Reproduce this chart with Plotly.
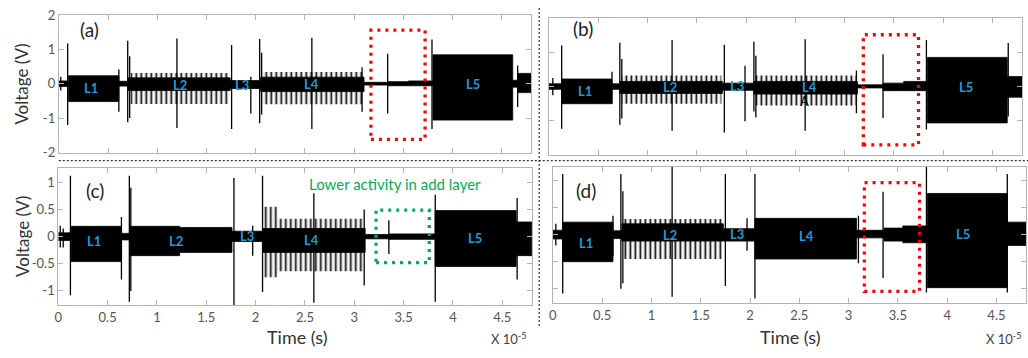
import plotly.graph_objects as go

W, H = 1028, 358
FONT = "Lato"

# ---------------- data (time in units of 1e-5 s, voltage in V) ----------------
x_ticks = [0, 0.5, 1, 1.5, 2, 2.5, 3, 3.5, 4, 4.5]
x_tick_text = ["0", "0.5", "1", "1.5", "2", "2.5", "3", "3.5", "4", "4.5"]
y_ticks_ab = [-2, -1, 0, 1, 2]
y_tick_text_ab = ["-2", "-1", "0", "1", "2"]
y_ticks_cd = [-1, -0.5, 0, 0.5, 1]
y_tick_text_cd = ["-1", "-0.5", "0", "0.5", "1"]
layer_names = ["L1", "L2", "L3", "L4", "L5"]

# Panel (a): step envelope of the dense oscillation
a_env_t = [0.00, 0.10, 0.61, 0.70, 1.74, 2.05, 3.10, 3.34, 3.55, 3.80, 4.61, 4.66, 4.80]
a_env_hi = [0.08, 0.23, 0.07, 0.17, 0.09, 0.19, 0.04, 0.06, 0.08, 0.84, 0.10, 0.30, 0.30]
a_env_lo = [-0.08, -0.52, -0.07, -0.20, -0.14, -0.23, -0.04, -0.06, -0.06, -1.06, -0.10, -0.26, -0.26]
a_comb_t0 = [0.73, 2.07]
a_comb_t1 = [1.73, 3.08]
a_comb_hi = [0.31, 0.34]
a_comb_lo = [-0.59, -0.60]
a_spk_t = [0.02, 0.09, 0.61, 0.70, 0.72, 1.20, 1.755, 1.95, 2.04, 2.06, 2.57, 3.08, 3.34, 3.79, 4.66]
a_spk_hi = [0.20, 1.17, 0.41, 1.25, 0.80, 1.32, 1.13, 0.20, 1.30, 0.90, 1.34, 0.48, 0.87, 1.29, 0.53]
a_spk_lo = [-0.20, -1.20, -0.82, -1.12, -1.00, -1.29, -1.32, -0.87, -1.15, -0.90, -1.32, -0.82, -0.87, -1.32, -0.68]

# Panel (b)
b_env_t = [0.00, 0.13, 0.64, 0.72, 1.76, 2.08, 3.13, 3.39, 3.60, 3.84, 4.65, 4.80]
b_env_hi = [0.08, 0.22, 0.08, 0.15, 0.10, 0.15, 0.05, 0.10, 0.15, 0.85, 0.29, 0.29]
b_env_lo = [-0.08, -0.50, -0.08, -0.20, -0.11, -0.22, -0.04, -0.12, -0.12, -1.06, -0.31, -0.31]
b_comb_t0 = [0.74, 2.10]
b_comb_t1 = [1.75, 3.12]
b_comb_hi = [0.32, 0.32]
b_comb_lo = [-0.50, -0.55]
b_spk_t = [0.04, 0.13, 0.64, 0.72, 0.74, 1.25, 1.78, 1.99, 2.08, 2.10, 2.60, 3.12, 3.39, 3.83, 4.66]
b_spk_hi = [0.25, 1.20, 0.43, 1.28, 0.80, 1.36, 1.22, 0.61, 1.31, 0.90, 1.38, 0.47, 0.94, 1.36, 1.27]
b_spk_lo = [-0.25, -1.23, -0.50, -1.11, -0.93, -1.29, -1.34, -1.01, -0.73, -0.90, -1.29, -0.78, -0.92, -1.25, -0.87]

# Panel (c)
c_env_t = [0.00, 0.13, 0.635, 0.73, 1.23, 1.76, 2.07, 3.11, 3.35, 3.82, 4.64, 4.80]
c_env_hi = [0.07, 0.19, 0.06, 0.19, 0.17, 0.10, 0.15, 0.04, 0.05, 0.48, 0.27, 0.27]
c_env_lo = [-0.07, -0.46, -0.06, -0.35, -0.29, -0.09, -0.29, -0.04, -0.05, -0.55, -0.35, -0.35]
c_comb_t0 = [2.08, 2.08]
c_comb_t1 = [2.22, 3.09]
c_comb_hi = [0.55, 0.33]
c_comb_lo = [-0.75, -0.64]
c_spk_t = [0.02, 0.05, 0.123, 0.64, 0.72, 0.735, 1.78, 1.97, 2.07, 2.59, 3.10, 3.35, 3.82, 4.65]
c_spk_hi = [0.20, 0.15, 1.12, 0.36, 1.12, 0.90, 1.08, 0.20, 1.12, 0.80, 0.50, 0.30, 0.77, 0.71]
c_spk_lo = [-0.20, -0.20, -1.08, -0.79, -1.20, -1.00, -1.26, -0.35, -1.02, -1.22, -0.90, -0.32, -1.20, -0.79]

# Panel (d)
d_env_t = [0.00, 0.10, 0.61, 0.70, 1.73, 2.05, 3.08, 3.36, 3.55, 3.80, 4.61, 4.80]
d_env_hi = [0.08, 0.23, 0.07, 0.20, 0.11, 0.30, 0.08, 0.12, 0.16, 0.76, 0.23, 0.23]
d_env_lo = [-0.08, -0.50, -0.07, -0.12, -0.12, -0.45, -0.06, -0.12, -0.15, -0.98, -0.20, -0.20]
d_comb_t0 = [0.72]
d_comb_t1 = [1.72]
d_comb_hi = [0.29]
d_comb_lo = [-0.45]
d_spk_t = [0.03, 0.10, 0.61, 0.69, 0.71, 1.21, 1.75, 1.97, 2.05, 3.10, 3.35, 3.79, 4.61]
d_spk_hi = [0.20, 1.12, 0.35, 1.12, 0.80, 1.25, 1.12, 0.30, 1.12, 0.35, 0.79, 1.26, 1.12]
d_spk_lo = [-0.20, -1.09, -0.40, -1.00, -0.90, -1.15, -0.95, -0.30, -1.18, -0.53, -0.80, -1.07, -1.07]

# layer label positions (t, V) per panel
a_lab_t = [0.33, 1.23, 1.86, 2.57, 4.21]
a_lab_v = [-0.14, -0.03, -0.03, 0.00, 0.00]
b_lab_t = [0.37, 1.225, 1.91, 2.64, 4.23]
b_lab_v = [-0.13, -0.02, 0.03, -0.02, -0.02]
c_lab_t = [0.36, 1.19, 1.91, 2.57, 4.22]
c_lab_v = [-0.08, -0.08, 0.01, -0.07, -0.02]
d_lab_t = [0.34, 1.185, 1.87, 2.57, 4.16]
d_lab_v = [-0.15, 0.00, 0.01, -0.03, 0.01]

# highlight boxes (t0, t1, v0, v1)
a_box = [3.17, 3.72, -1.62, 1.56]
b_box = [3.19, 3.75, -1.70, 1.51]
c_box = [3.22, 3.76, -0.48, 0.49]
d_box = [3.16, 3.72, -1.05, 0.96]

# ---------------- layout geometry (pixels) ----------------
def px(xp):
    return xp / W

def py(yp):
    return 1 - yp / H

panels = [
    dict(key="a", xa="x", ya="y", xdom=(55, 529.5), ydom=(7, 151), yr=[-2.01, 2.01],
         env=(a_env_t, a_env_hi, a_env_lo), comb=(a_comb_t0, a_comb_t1, a_comb_hi, a_comb_lo),
         spk=(a_spk_t, a_spk_hi, a_spk_lo), lab=(a_lab_t, a_lab_v), box=a_box, boxc="#FF0000",
         yt=(y_ticks_ab, y_tick_text_ab), ylab=True, xlab=False),
    dict(key="b", xa="x2", ya="y2", xdom=(547, 1022), ydom=(10.4, 153.6), yr=[-2, 2],
         env=(b_env_t, b_env_hi, b_env_lo), comb=(b_comb_t0, b_comb_t1, b_comb_hi, b_comb_lo),
         spk=(b_spk_t, b_spk_hi, b_spk_lo), lab=(b_lab_t, b_lab_v), box=b_box, boxc="#FF0000",
         yt=(y_ticks_ab, y_tick_text_ab), ylab=False, xlab=False),
    dict(key="c", xa="x3", ya="y3", xdom=(54.5, 530), ydom=(167, 310), yr=[-1.26, 1.265],
         env=(c_env_t, c_env_hi, c_env_lo), comb=(c_comb_t0, c_comb_t1, c_comb_hi, c_comb_lo),
         spk=(c_spk_t, c_spk_hi, c_spk_lo), lab=(c_lab_t, c_lab_v), box=c_box, boxc="#00B050",
         yt=(y_ticks_cd, y_tick_text_cd), ylab=True, xlab=True),
    dict(key="d", xa="x4", ya="y4", xdom=(551, 1026), ydom=(166, 308), yr=[-1.265, 1.248],
         env=(d_env_t, d_env_hi, d_env_lo), comb=(d_comb_t0, d_comb_t1, d_comb_hi, d_comb_lo),
         spk=(d_spk_t, d_spk_hi, d_spk_lo), lab=(d_lab_t, d_lab_v), box=d_box, boxc="#FF0000",
         yt=(y_ticks_cd, y_tick_text_cd), ylab=False, xlab=True),
]

fig = go.Figure()
shapes = []
annotations = []
FRAME = "#b4b4b4"


def note(x, y, text, size, color, xref="paper", yref="paper", angle=0):
    return dict(x=x, y=y, xref=xref, yref=yref, text=text, showarrow=False,
                xanchor="center", yanchor="middle", textangle=angle,
                font=dict(family=FONT, size=size, color=color))


for i, p in enumerate(panels):
    xa, ya = p["xa"], p["ya"]
    # comb (pulsed) regions drawn as vertical-line pattern
    t0s, t1s, his, los = p["comb"]
    cx, cy = [], []
    for t0, t1, hi, lo in zip(t0s, t1s, his, los):
        cx += [t0, t1, t1, t0, t0, None]
        cy += [lo, lo, hi, hi, lo, None]
    fig.add_trace(go.Scatter(
        x=cx, y=cy, xaxis=xa, yaxis=ya, mode="lines", line=dict(width=0),
        fill="toself", fillcolor="rgba(0,0,0,0)",
        fillpattern=dict(shape="|", size=5, solidity=0.35, fgcolor="#111111",
                         bgcolor="rgba(0,0,0,0.04)", fillmode="replace"),
        hoverinfo="skip", showlegend=False))
    # dense oscillation envelope
    et, ehi, elo = p["env"]
    fig.add_trace(go.Scatter(x=et, y=ehi, xaxis=xa, yaxis=ya, mode="lines",
                             line=dict(width=0.8, color="black", shape="hv"),
                             hoverinfo="skip", showlegend=False))
    fig.add_trace(go.Scatter(x=et, y=elo, xaxis=xa, yaxis=ya, mode="lines",
                             line=dict(width=0.8, color="black", shape="hv"),
                             fill="tonexty", fillcolor="black",
                             hoverinfo="skip", showlegend=False))
    # spikes
    st, shi, slo = p["spk"]
    sx, sy = [], []
    for t, hi, lo in zip(st, shi, slo):
        sx += [t, t, None]
        sy += [hi, lo, None]
    fig.add_trace(go.Scatter(x=sx, y=sy, xaxis=xa, yaxis=ya, mode="lines",
                             line=dict(width=1.3, color="black"),
                             hoverinfo="skip", showlegend=False))

    sfx = "" if i == 0 else str(i + 1)
    fig.layout["xaxis" + sfx] = dict(
        domain=[px(p["xdom"][0]), px(p["xdom"][1])], anchor=ya, range=[0, 4.8],
        showline=True, linecolor=FRAME, linewidth=1, mirror="ticks",
        ticks="inside", ticklen=5, tickcolor=FRAME, showgrid=False, zeroline=False,
        tickvals=x_ticks, ticktext=x_tick_text, showticklabels=p["xlab"],
        ticklabeloverflow="allow",
        tickfont=dict(family=FONT, size=13, color="#555555"))
    fig.layout["yaxis" + sfx] = dict(
        domain=[py(p["ydom"][1]), py(p["ydom"][0])], anchor=xa, range=p["yr"],
        showline=True, linecolor=FRAME, linewidth=1, mirror="ticks",
        ticks="inside", ticklen=5, tickcolor=FRAME, showgrid=False, zeroline=False,
        tickvals=p["yt"][0], ticktext=p["yt"][1], showticklabels=p["ylab"],
        ticklabeloverflow="allow",
        tickfont=dict(family=FONT, size=13, color="#555555"))

    # layer labels
    for name, t, v in zip(layer_names, p["lab"][0], p["lab"][1]):
        annotations.append(note(t, v, "<b>%s</b>" % name, 13, "#1C9CD8", xref=xa, yref=ya))
    # highlight box
    bx = p["box"]
    shapes.append(dict(type="rect", xref=xa, yref=ya, x0=bx[0], x1=bx[1], y0=bx[2], y1=bx[3],
                       line=dict(color=p["boxc"], width=3.3, dash="3px,5px"), layer="above"))

# panel letters
for txt, xp, yp in [("(a)", 86, 22), ("(b)", 581, 21), ("(c)", 91, 191), ("(d)", 584, 191)]:
    annotations.append(note(px(xp), py(yp), txt, 19, "#222222"))

# axis titles
for yp in (79, 238):
    annotations.append(note(px(18), py(yp), "Voltage (V)", 17, "#333333", angle=-90))
for xp in (295, 790):
    annotations.append(note(px(xp), py(343), "Time (s)", 18, "#333333"))
for xp in (507, 1004):
    annotations.append(note(px(xp), py(345), "X 10<sup>-5</sup>", 13, "#444444"))

# extra texts
annotations.append(note(px(393), py(184), "Lower activity in add layer", 15, "#00B050"))
annotations.append(note(2.59, -0.42, "A", 13, "black", xref="x2", yref="y2"))

# dotted separators
shapes.append(dict(type="line", xref="paper", yref="paper", x0=px(55), x1=1, y0=py(159.3), y1=py(159.3),
                   line=dict(color="#333333", width=1.2, dash="2px,2px")))
shapes.append(dict(type="line", xref="paper", yref="paper", x0=px(537.3), x1=px(537.3), y0=1, y1=py(333),
                   line=dict(color="#333333", width=1.2, dash="2px,2px")))

fig.update_layout(width=W, height=H, margin=dict(l=0, r=0, t=0, b=0),
                  paper_bgcolor="white", plot_bgcolor="white",
                  shapes=shapes, annotations=annotations, showlegend=False,
                  font=dict(family=FONT))

fig.write_html("out.html", config={"displayModeBar": False},
               post_script="document.body.style.margin='0';document.body.style.overflow='hidden';")
